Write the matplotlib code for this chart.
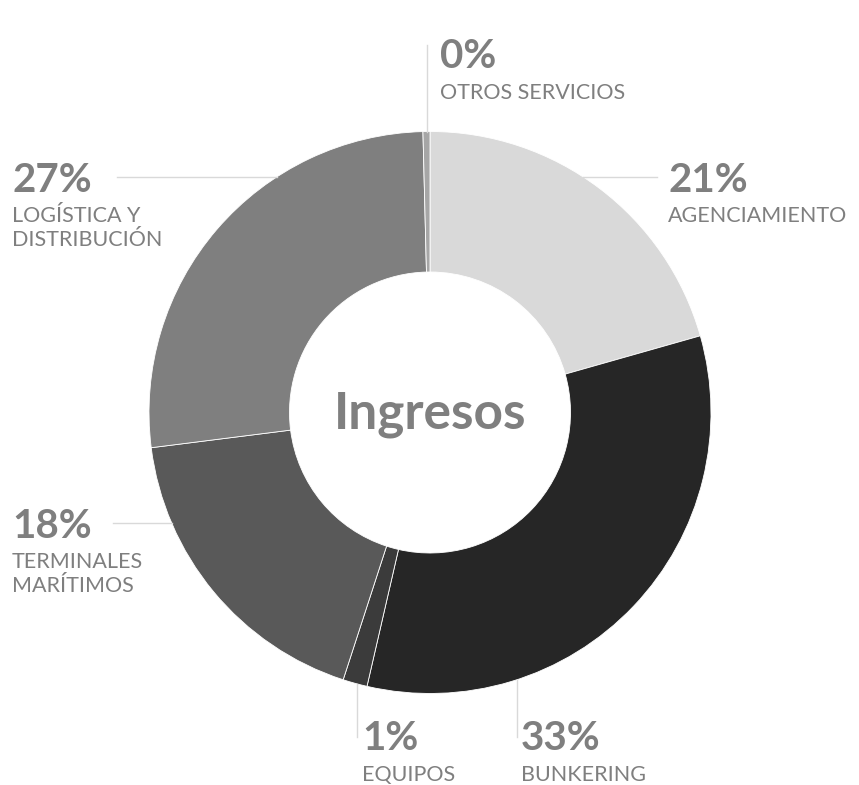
import numpy as np
import matplotlib.pyplot as plt

# Daten (Anteile am Ingreso, %)
categorias = ["AGENCIAMIENTO", "BUNKERING", "EQUIPOS", "TERMINALES\nMARÍTIMOS",
              "LOGÍSTICA Y\nDISTRIBUCIÓN", "OTROS SERVICIOS"]
valores = [20.6, 33.0, 1.4, 18.0, 26.6, 0.4]
colores = ["#d9d9d9", "#262626", "#3b3b3b", "#595959", "#7f7f7f", "#a6a6a6"]

W, H = 859, 785
CX, CY, R = 430, 785 - 412.5, 281
TXT = "#7f7f7f"
LINE = "#d9d9d9"
FONT = "Lato"


def py(y):
    # Pixel-y (von oben) -> Achsen-y
    return H - y


fig = plt.figure(figsize=(W / 100, H / 100), dpi=100)
ax = fig.add_axes([0, 0, 1, 1])

ax.pie(
    valores,
    colors=colores,
    startangle=90,
    counterclock=False,
    center=(CX, CY),
    radius=R,
    wedgeprops=dict(width=R * 0.5, edgecolor="white", linewidth=0.6),
)
ax.set_xlim(0, W)
ax.set_ylim(0, H)
ax.set_aspect("equal")
ax.axis("off")

ax.text(CX, CY - 2, "Ingresos", ha="center", va="center", fontsize=37,
        fontweight="bold", color=TXT, family=FONT)


def x_on_circle(y, side):
    dy = py(y) - CY
    return CX + side * np.sqrt(R ** 2 - dy ** 2)


# Positionen der Beschriftungen (Pixel): x, y der Prozentzahl, Art der Linie
labels_pos = [
    (668, 180, "h", +1),
    (521, 739, "v", 517),
    (362, 739, "v", 357),
    (12, 526, "h", -1),
    (12, 180, "h", -1),
    (440, 57, "top", 427),
]

for cat, val, (tx, ty, kind, ref) in zip(categorias, valores, labels_pos):
    ax.text(tx, py(ty), f"{val:.0f}%", ha="left", va="center", fontsize=29,
            fontweight="bold", color=TXT, family=FONT)
    for i, zeile in enumerate(cat.split("\n")):
        ax.text(tx, py(ty + 42 + i * 23.5), zeile, ha="left", va="baseline",
                fontsize=15.5, color=TXT, family=FONT)

    if kind == "h":
        yl = 177 if ty < 300 else 523
        xa = x_on_circle(yl, ref)
        if ref > 0:
            ax.plot([xa, 657], [py(yl), py(yl)], color=LINE, lw=1)
        else:
            x0 = 117 if ty < 300 else 113
            ax.plot([x0, xa], [py(yl), py(yl)], color=LINE, lw=1)
    elif kind == "v":
        ya = CY - np.sqrt(R ** 2 - (ref - CX) ** 2)
        ax.plot([ref, ref], [ya, py(737)], color=LINE, lw=1)
    else:
        ya = CY + np.sqrt(R ** 2 - (ref - CX) ** 2)
        ax.plot([ref, ref], [ya, py(45)], color=LINE, lw=1)

fig.savefig("out.png", dpi=100)
plt.close(fig)
